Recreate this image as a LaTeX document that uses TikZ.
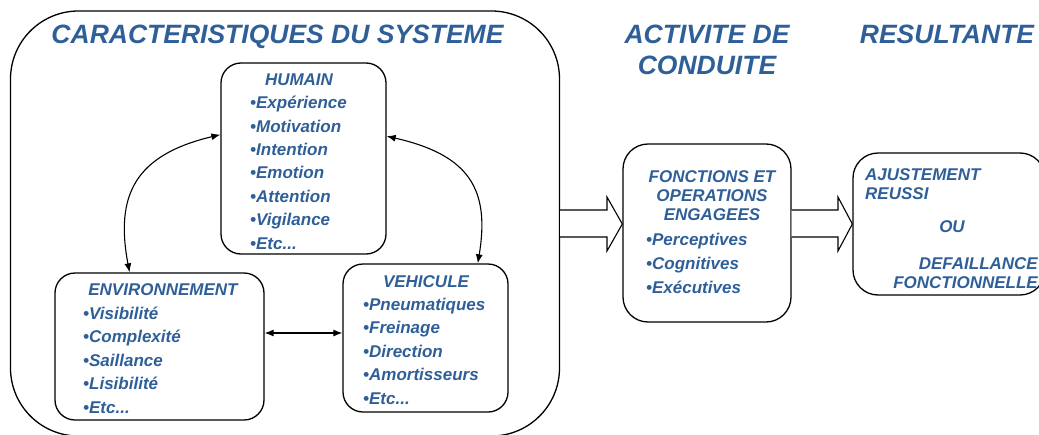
\documentclass[tikz,border=0pt]{standalone}
\usepackage{fontspec}
\setmainfont{Liberation Sans}
\usetikzlibrary{arrows.meta}
\definecolor{titleblue}{RGB}{47,95,152}

\tikzstyle{box}=[draw, rounded corners=20pt, line width=1.3pt, inner sep=0pt]
\tikzstyle{txt}=[inner sep=0pt, text=titleblue, align=left, font=\bfseries\itshape\fontsize{17}{23.4}\selectfont]
\tikzstyle{txttwo}=[inner sep=0pt, text=titleblue, font=\bfseries\itshape\fontsize{17}{19}\selectfont]
\tikzstyle{head}=[inner sep=0pt, text=titleblue, align=center, font=\bfseries\itshape\fontsize{26.5}{31}\selectfont]
\tikzstyle{link}=[{Latex[length=9pt,width=7pt]}-{Latex[length=9pt,width=7pt]}, line width=1.1pt]
\tikzstyle{bigarrow}=[line width=1.1pt, fill=white]

\begin{document}
\begin{tikzpicture}[x=1pt, y=-1pt]
\useasboundingbox (0,0) rectangle (1039,434);
\clip (0,0) rectangle (1039,434);

% the three columns
\node[box, rounded corners=68pt, minimum width=549pt, minimum height=425pt](sys) at (285,223.5) {};
\node[box, rounded corners=25pt, minimum width=168pt, minimum height=178pt](fonc) at (707,233) {};
\node[box, rounded corners=25pt, minimum width=192pt, minimum height=142pt](res) at (949,224) {};

\node[head, anchor=base](hsys) at (277.5,43) {CARACTERISTIQUES DU SYSTEME};
\node[head, anchor=base](hact) at (707,74) {ACTIVITE DE\\CONDUITE};
\node[head, anchor=base](hres) at (947,43) {RESULTANTE};

% human, environment, vehicle
\node[box, minimum width=165pt, minimum height=191pt](hum) at (303.5,158.5) {};
\node[box, minimum width=209pt, minimum height=147pt](env) at (159.5,346.5) {};
\node[box, minimum width=165pt, minimum height=148pt](veh) at (425.5,338) {};

\node[txt, anchor=base](humt) at (299,85) {HUMAIN};
\node[txt, anchor=base west](huml) at (250,249) {•Expérience\\•Motivation\\•Intention\\•Emotion\\•Attention\\•Vigilance\\•Etc...};
\node[txt, anchor=base](envt) at (163,295) {ENVIRONNEMENT};
\node[txt, anchor=base west](envl) at (83,413) {•Visibilité\\•Complexité\\•Saillance\\•Lisibilité\\•Etc...};
\node[txt, anchor=base](veht) at (426,287) {VEHICULE};
\node[txt, anchor=base west](vehl) at (363,404) {•Pneumatiques\\•Freinage\\•Direction\\•Amortisseurs\\•Etc...};

\draw[link] (env.112) .. controls (115,195) and (135,155) .. (hum.164);
\draw[link] (hum.15) .. controls (470,155) and (490,190) .. (veh.55);
\draw[link] (env.east |- 0,333) -- (veh.west |- 0,333);

% driving activity and result
\node[txttwo, anchor=base, align=center](fonct) at (712,220) {FONCTIONS ET\\OPERATIONS\\ENGAGEES};
\node[txt, anchor=base west, font=\bfseries\itshape\fontsize{17}{24}\selectfont](foncl) at (646,293) {•Perceptives\\•Cognitives\\•Exécutives};
\node[txttwo, anchor=base west, align=left](resa) at (865,199) {AJUSTEMENT\\REUSSI};
\node[txttwo, anchor=base](reso) at (952,232) {OU};
\node[txttwo, anchor=base east, align=right](resd) at (1038,288) {DEFAILLANCE\\FONCTIONNELLE};

\draw[bigarrow] (sys.east |- 0,210) -- (607,210) -- (607,197) -- (fonc.west |- 0,224) -- (607,251) -- (607,237) -- (sys.east |- 0,237);
\draw[bigarrow] (fonc.east |- 0,210) -- (838,210) -- (838,197) -- (res.west |- 0,224) -- (838,251) -- (838,237) -- (fonc.east |- 0,237);
\end{tikzpicture}
\end{document}
